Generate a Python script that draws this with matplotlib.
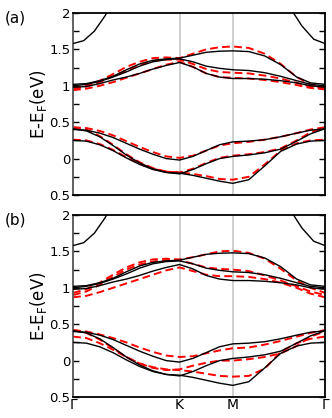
import matplotlib.pyplot as plt
import numpy as np

# k-path Gamma-K-M-Gamma (K at 1, M at 1.5, Gamma at 2.366)
k = [0, 0.125, 0.25, 0.375, 0.5, 0.625, 0.75, 0.875, 1.0,
     1.125, 1.25, 1.375, 1.5, 1.65, 1.8, 1.95, 2.1, 2.23, 2.366]
k_ticks = [0, 1.0, 1.5, 2.366]
k_labels = [u'\u0393', 'K', 'M', u'\u0393']

# top conduction band (leaves the window)
k_top_l = [0, 0.1, 0.2, 0.3, 0.36]
e_top_l = [1.58, 1.62, 1.75, 1.96, 2.12]
k_top_r = [2.0, 2.07, 2.15, 2.26, 2.366]
e_top_r = [2.2, 2.0, 1.82, 1.64, 1.58]

# DFT bands (black), same in both panels
dft = [
    [1.02, 1.03, 1.07, 1.13, 1.22, 1.30, 1.35, 1.37, 1.38,
     1.42, 1.46, 1.475, 1.48, 1.47, 1.41, 1.29, 1.12, 1.04, 1.02],
    [1.00, 1.02, 1.06, 1.12, 1.19, 1.27, 1.33, 1.36, 1.37,
     1.33, 1.27, 1.24, 1.22, 1.21, 1.18, 1.13, 1.07, 1.02, 1.00],
    [0.98, 0.99, 1.03, 1.08, 1.12, 1.17, 1.23, 1.28, 1.32,
     1.26, 1.17, 1.12, 1.10, 1.10, 1.09, 1.07, 1.04, 1.00, 0.98],
    [0.40, 0.39, 0.35, 0.29, 0.21, 0.13, 0.06, 0.00, -0.02,
     0.03, 0.11, 0.19, 0.23, 0.24, 0.26, 0.30, 0.35, 0.39, 0.41],
    [0.41, 0.38, 0.30, 0.18, 0.05, -0.06, -0.14, -0.19, -0.20,
     -0.23, -0.27, -0.31, -0.34, -0.29, -0.10, 0.10, 0.20, 0.24, 0.25],
    [0.25, 0.24, 0.19, 0.11, 0.01, -0.08, -0.15, -0.19, -0.21,
     -0.15, -0.07, 0.00, 0.03, 0.05, 0.08, 0.13, 0.24, 0.34, 0.41],
]

# model bands (red dashed), panel (a)
model_a = [
    [0.96, 1.00, 1.07, 1.16, 1.26, 1.33, 1.38, 1.39, 1.38,
     1.44, 1.50, 1.53, 1.54, 1.52, 1.44, 1.30, 1.12, 1.02, 0.97],
    [0.95, 0.99, 1.05, 1.13, 1.21, 1.29, 1.34, 1.36, 1.36,
     1.30, 1.23, 1.19, 1.18, 1.17, 1.14, 1.10, 1.04, 0.99, 0.96],
    [0.94, 0.96, 1.00, 1.05, 1.11, 1.17, 1.23, 1.29, 1.33,
     1.26, 1.17, 1.12, 1.11, 1.10, 1.08, 1.05, 1.01, 0.97, 0.95],
    [0.43, 0.42, 0.38, 0.32, 0.24, 0.16, 0.09, 0.03, 0.01,
     0.04, 0.11, 0.18, 0.21, 0.23, 0.26, 0.30, 0.35, 0.40, 0.43],
    [0.43, 0.40, 0.31, 0.19, 0.06, -0.05, -0.13, -0.18, -0.19,
     -0.21, -0.24, -0.28, -0.29, -0.25, -0.08, 0.11, 0.21, 0.25, 0.26],
    [0.26, 0.25, 0.20, 0.12, 0.02, -0.07, -0.14, -0.18, -0.19,
     -0.14, -0.06, 0.01, 0.04, 0.06, 0.09, 0.14, 0.25, 0.36, 0.43],
]

# model bands (red dashed), panel (b)
model_b = [
    [0.93, 0.98, 1.07, 1.18, 1.28, 1.35, 1.39, 1.40, 1.39,
     1.42, 1.46, 1.50, 1.51, 1.48, 1.40, 1.26, 1.10, 1.00, 0.93],
    [0.90, 0.95, 1.04, 1.15, 1.25, 1.32, 1.36, 1.38, 1.38,
     1.33, 1.28, 1.26, 1.25, 1.23, 1.17, 1.10, 1.02, 0.95, 0.90],
    [0.87, 0.89, 0.94, 1.00, 1.06, 1.12, 1.18, 1.24, 1.28,
     1.23, 1.18, 1.16, 1.16, 1.15, 1.12, 1.07, 1.00, 0.92, 0.87],
    [0.42, 0.40, 0.36, 0.31, 0.25, 0.18, 0.12, 0.07, 0.05,
     0.06, 0.10, 0.14, 0.17, 0.18, 0.22, 0.27, 0.33, 0.38, 0.42],
    [0.42, 0.38, 0.29, 0.17, 0.05, -0.04, -0.09, -0.12, -0.13,
     -0.15, -0.18, -0.21, -0.22, -0.21, -0.11, 0.12, 0.24, 0.30, 0.33],
    [0.33, 0.31, 0.24, 0.15, 0.05, -0.04, -0.10, -0.13, -0.12,
     -0.07, -0.03, 0.00, 0.00, 0.02, 0.05, 0.10, 0.20, 0.33, 0.40],
]

y_ticks = [-0.5, 0, 0.5, 1, 1.5, 2]
y_labels = ['0.5', '0', '0.5', '1', '1.5', '2']

fig = plt.figure(figsize=(3.32, 4.18), dpi=100)
ax_a = fig.add_axes([0.22, 0.5335, 0.759, 0.4354])
ax_b = fig.add_axes([0.22, 0.0502, 0.759, 0.4354])

for ax, model, tag in [(ax_a, model_a, '(a)'), (ax_b, model_b, '(b)')]:
    for kx in k_ticks[1:3]:
        ax.axvline(kx, color='#cccccc', lw=1.3, zorder=0)
    for band in model:
        ax.plot(k, band, color='red', lw=1.4, ls=(0, (4, 2.2)), zorder=2)
    for band in dft:
        ax.plot(k, band, color='black', lw=1.0, zorder=3)
    ax.plot(k_top_l, e_top_l, color='black', lw=1.0, zorder=3)
    ax.plot(k_top_r, e_top_r, color='black', lw=1.0, zorder=3)

    ax.set_xlim(0, 2.366)
    ax.set_ylim(-0.5, 2)
    ax.set_yticks(y_ticks)
    ax.set_yticklabels(y_labels, fontsize=9.5)
    ax.set_yticks(np.arange(-0.25, 2, 0.5), minor=True)
    ax.tick_params(axis='y', which='both', direction='in', right=True,
                   length=4, width=1, pad=2)
    ax.set_xticks(k_ticks)
    ax.tick_params(axis='x', length=0, pad=1)
    for s in ax.spines.values():
        s.set_linewidth(1.3)
    ax.spines['left'].set_color('#555555')
    ax.set_ylabel(r'E-E$_{\rm F}$(eV)', fontsize=12, labelpad=0)
    fig.text(0.015, ax.get_position().y1 + 0.005, tag, fontsize=11, va='top')

ax_a.set_xticklabels([])
ax_b.set_xticklabels(k_labels, fontsize=10)

fig.savefig('out.png', dpi=100)
